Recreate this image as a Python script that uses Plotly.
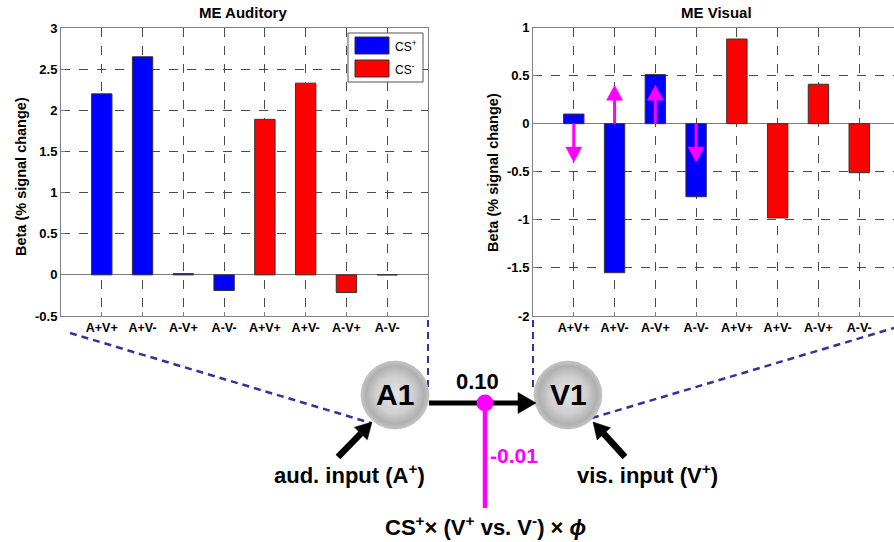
import numpy as np
import plotly.graph_objects as go

W, H = 894, 542

# ---------------- data ----------------
categories = ["A+V+", "A+V-", "A-V+", "A-V-", "A+V+", "A+V-", "A-V+", "A-V-"]
aud_cs_plus = [2.20, 2.65, 0.015, -0.19]
aud_cs_minus = [1.89, 2.33, -0.215, 0.0]
vis_cs_plus = [0.10, -1.55, 0.51, -0.76]
vis_cs_minus = [0.88, -0.98, 0.41, -0.51]
vis_modulation = [-0.40, 0.40, 0.40, -0.40]   # magenta arrows on CS+ bars
aud_yticks = [-0.5, 0, 0.5, 1, 1.5, 2, 2.5, 3]
vis_yticks = [-2, -1.5, -1, -0.5, 0, 0.5, 1]
coupling_label = "0.10"
modulation_label = "-0.01"

# ---------------- styling ----------------
FONT = "Liberation Sans, Arial, Helvetica, sans-serif"
BLUE, RED, MAG = "#0000ff", "#ff0000", "#ff00ff"
GRID = "#4a4a4a"
AXC = "#808080"
NAVY = "#33339a"

pos = list(range(1, 9))
pos_plus, pos_minus = pos[:4], pos[4:]

def fmt(v):
    return "%g" % v

fig = go.Figure()

bar_line = dict(color="#333333", width=1)
fig.add_trace(go.Bar(x=pos_plus, y=aud_cs_plus, width=0.5, marker=dict(color=BLUE, line=bar_line),
                     xaxis="x", yaxis="y", showlegend=False, hoverinfo="skip"))
fig.add_trace(go.Bar(x=pos_minus, y=aud_cs_minus, width=0.5, marker=dict(color=RED, line=bar_line),
                     xaxis="x", yaxis="y", showlegend=False, hoverinfo="skip"))
fig.add_trace(go.Bar(x=pos_plus, y=vis_cs_plus, width=0.5, marker=dict(color=BLUE, line=bar_line),
                     xaxis="x2", yaxis="y2", showlegend=False, hoverinfo="skip"))
fig.add_trace(go.Bar(x=pos_minus, y=vis_cs_minus, width=0.5, marker=dict(color=RED, line=bar_line),
                     xaxis="x2", yaxis="y2", showlegend=False, hoverinfo="skip"))

# Spheres (A1, V1) on pixel overlay axis
nodes = [("A1", 395, 395), ("V1", 568, 395)]
R = 34
t = np.linspace(0, 2 * np.pi, 120)
for name, cx, cy in nodes:
    fig.add_trace(go.Scatter(x=cx + R * np.cos(t), y=cy + R * np.sin(t), mode="lines", fill="toself",
                             line=dict(width=0.5, color="#b0b0b0"),
                             fillgradient=dict(type="radial",
                                               colorscale=[[0, "#e4e4e4"], [0.55, "#cfcfcf"], [0.85, "#b0b0b0"], [1, "#c4c4c4"]]),
                             xaxis="x3", yaxis="y3", showlegend=False, hoverinfo="skip"))

n = len(categories)
spacing_px = (428 - 61) / (n + 1)

common_x = dict(tickmode="array", tickvals=pos, ticktext=categories, showgrid=True, griddash="dash",
                gridcolor=GRID, gridwidth=1, showline=True, linecolor=AXC, linewidth=1, mirror=True,
                ticks="inside", ticklen=4, tickcolor=AXC, zeroline=False, automargin=False,
                tickfont=dict(family=FONT, size=12.5, color="black", weight="bold"), fixedrange=True)
common_y = dict(tickmode="array", showgrid=True, griddash="dash", gridcolor=GRID, gridwidth=1,
                showline=True, linecolor=AXC, linewidth=1, ticks="inside", ticklen=4, tickcolor=AXC,
                zeroline=True, zerolinecolor="#7a7a7a", zerolinewidth=1, automargin=False,
                tickfont=dict(family=FONT, size=13, color="black", weight="bold"), fixedrange=True)

fig.update_layout(
    width=W, height=H, margin=dict(l=0, r=0, t=0, b=0, pad=0, autoexpand=False),
    paper_bgcolor="white", plot_bgcolor="rgba(0,0,0,0)",
    barmode="overlay", showlegend=False,
    xaxis=dict(domain=[61 / W, 428 / W], range=[0, n + 1], anchor="y", **common_x),
    yaxis=dict(domain=[1 - 316 / H, 1 - 28 / H], range=[-0.5, 3], anchor="x", mirror=True,
               tickvals=aud_yticks, ticktext=[fmt(v) for v in aud_yticks], **common_y),
    xaxis2=dict(domain=[533 / W, 1], range=[0, (W - 533) / spacing_px], anchor="y2", **common_x),
    yaxis2=dict(domain=[1 - 316 / H, 1 - 27.5 / H], range=[-2, 1], anchor="x2", mirror=False,
                tickvals=vis_yticks, ticktext=[fmt(v) for v in vis_yticks], **common_y),
    xaxis3=dict(domain=[0, 1], range=[0, W], anchor="y3", visible=False, fixedrange=True, automargin=False),
    yaxis3=dict(domain=[0, 1], range=[H, 0], anchor="x3", visible=False, fixedrange=True, automargin=False),
)

shapes = []
ann = []

def px_line(x0, y0, x1, y1, color, width, dash=None, layer="above"):
    d = dict(type="line", xref="x3", yref="y3", x0=x0, y0=y0, x1=x1, y1=y1,
             line=dict(color=color, width=width), layer=layer)
    if dash:
        d["line"]["dash"] = dash
    shapes.append(d)

def px_arrow(x0, y0, x1, y1, color, width, head_len, head_half):
    ang = np.arctan2(y1 - y0, x1 - x0)
    bx, by = x1 - head_len * np.cos(ang), y1 - head_len * np.sin(ang)
    px_line(x0, y0, bx, by, color, width)
    nx, ny = -np.sin(ang), np.cos(ang)
    path = "M %.2f,%.2f L %.2f,%.2f L %.2f,%.2f Z" % (x1, y1, bx + head_half * nx, by + head_half * ny,
                                                       bx - head_half * nx, by - head_half * ny)
    shapes.append(dict(type="path", xref="x3", yref="y3", path=path, fillcolor=color,
                       line=dict(color=color, width=0.5), layer="above"))

# Legend box (auditory panel)
shapes.append(dict(type="rect", xref="x3", yref="y3", x0=348, y0=33, x1=423, y1=82,
                   line=dict(color="#555555", width=1), fillcolor="white", layer="above"))
for (y0, col, lab) in [(37, BLUE, "CS<sup>+</sup>"), (60, RED, "CS<sup>-</sup>")]:
    shapes.append(dict(type="rect", xref="x3", yref="y3", x0=355, y0=y0, x1=389, y1=y0 + 17,
                       line=dict(color="#333333", width=1), fillcolor=col, layer="above"))
    ann.append(dict(xref="x3", yref="y3", x=393, y=y0 + 9, text=lab, showarrow=False, xanchor="left",
                    yanchor="middle", font=dict(family=FONT, size=12, color="black")))

# Magenta modulation arrows on visual panel (data coordinates)
head_len = 15 / 96.0
head_half = 8 / spacing_px
for xc, v in zip(pos_plus, vis_modulation):
    sgn = 1 if v > 0 else -1
    base = v - sgn * head_len
    shapes.append(dict(type="line", xref="x2", yref="y2", x0=xc, y0=0, x1=xc, y1=base,
                       line=dict(color=MAG, width=3), layer="above"))
    shapes.append(dict(type="path", xref="x2", yref="y2",
                       path="M %.4f,%.4f L %.4f,%.4f L %.4f,%.4f Z" % (xc, v, xc - head_half, base, xc + head_half, base),
                       fillcolor=MAG, line=dict(color=MAG, width=0.5), layer="above"))

# Dashed connector lines
px_line(70, 333, 371, 423, NAVY, 2.5, dash="7px,5px", layer="below")
px_line(428, 320, 428, 387, NAVY, 2, dash="7px,5px", layer="below")
px_line(533, 320, 533, 390, NAVY, 2, dash="7px,5px", layer="below")
px_line(592, 418, 894, 328, NAVY, 2.5, dash="7px,5px", layer="below")

# Coupling arrow A1 -> V1
px_arrow(429, 403, 536, 403, "black", 5, 18, 10.5)
# Magenta modulatory input
px_line(485, 403, 485, 508, MAG, 4.5)
shapes.append(dict(type="circle", xref="x3", yref="y3", x0=476.5, y0=394.5, x1=493.5, y1=411.5,
                   fillcolor=MAG, line=dict(color=MAG, width=0), layer="above"))
# Input arrows
px_arrow(338, 457, 372, 422, "black", 6.5, 16, 9)
px_arrow(625, 457, 593, 422, "black", 6.5, 16, 9)

# Titles
ann.append(dict(xref="x3", yref="y3", x=243, y=12.5, text="ME Auditory", showarrow=False,
                font=dict(family=FONT, size=15, color="black", weight="bold")))
ann.append(dict(xref="x3", yref="y3", x=716, y=12.5, text="ME Visual", showarrow=False,
                font=dict(family=FONT, size=15, color="black", weight="bold")))
for xa, ya in [(21, 177), (493, 173)]:
    ann.append(dict(xref="x3", yref="y3", x=xa, y=ya, text="Beta (% signal change)", textangle=-90,
                    showarrow=False, font=dict(family=FONT, size=14.5, color="black", weight="bold")))

# Diagram text
for name, cx, cy in nodes:
    ann.append(dict(xref="x3", yref="y3", x=cx, y=cy - 1, text=name, showarrow=False,
                    font=dict(family=FONT, size=30, color="black", weight="bold")))
ann.append(dict(xref="x3", yref="y3", x=477, y=381, text=coupling_label, showarrow=False,
                font=dict(family=FONT, size=22, color="black", weight="bold")))
ann.append(dict(xref="x3", yref="y3", x=514, y=455, text=modulation_label, showarrow=False,
                font=dict(family=FONT, size=21, color=MAG, weight="bold")))
ann.append(dict(xref="x3", yref="y3", x=349, y=474, text="aud. input (A<sup>+</sup>)", showarrow=False,
                font=dict(family=FONT, size=22, color="black", weight="bold")))
ann.append(dict(xref="x3", yref="y3", x=647, y=474, text="vis. input (V<sup>+</sup>)", showarrow=False,
                font=dict(family=FONT, size=22, color="black", weight="bold")))
ann.append(dict(xref="x3", yref="y3", x=485, y=526,
                text="CS<sup>+</sup>× (V<sup>+</sup> vs. V<sup>-</sup>) × <i>ϕ</i>", showarrow=False,
                font=dict(family=FONT, size=22, color="black", weight="bold")))

fig.update_layout(shapes=shapes, annotations=ann)
fig.write_html("out.html", config={"displayModeBar": False},
               post_script="document.body.style.margin='0';document.body.style.overflow='hidden';")
